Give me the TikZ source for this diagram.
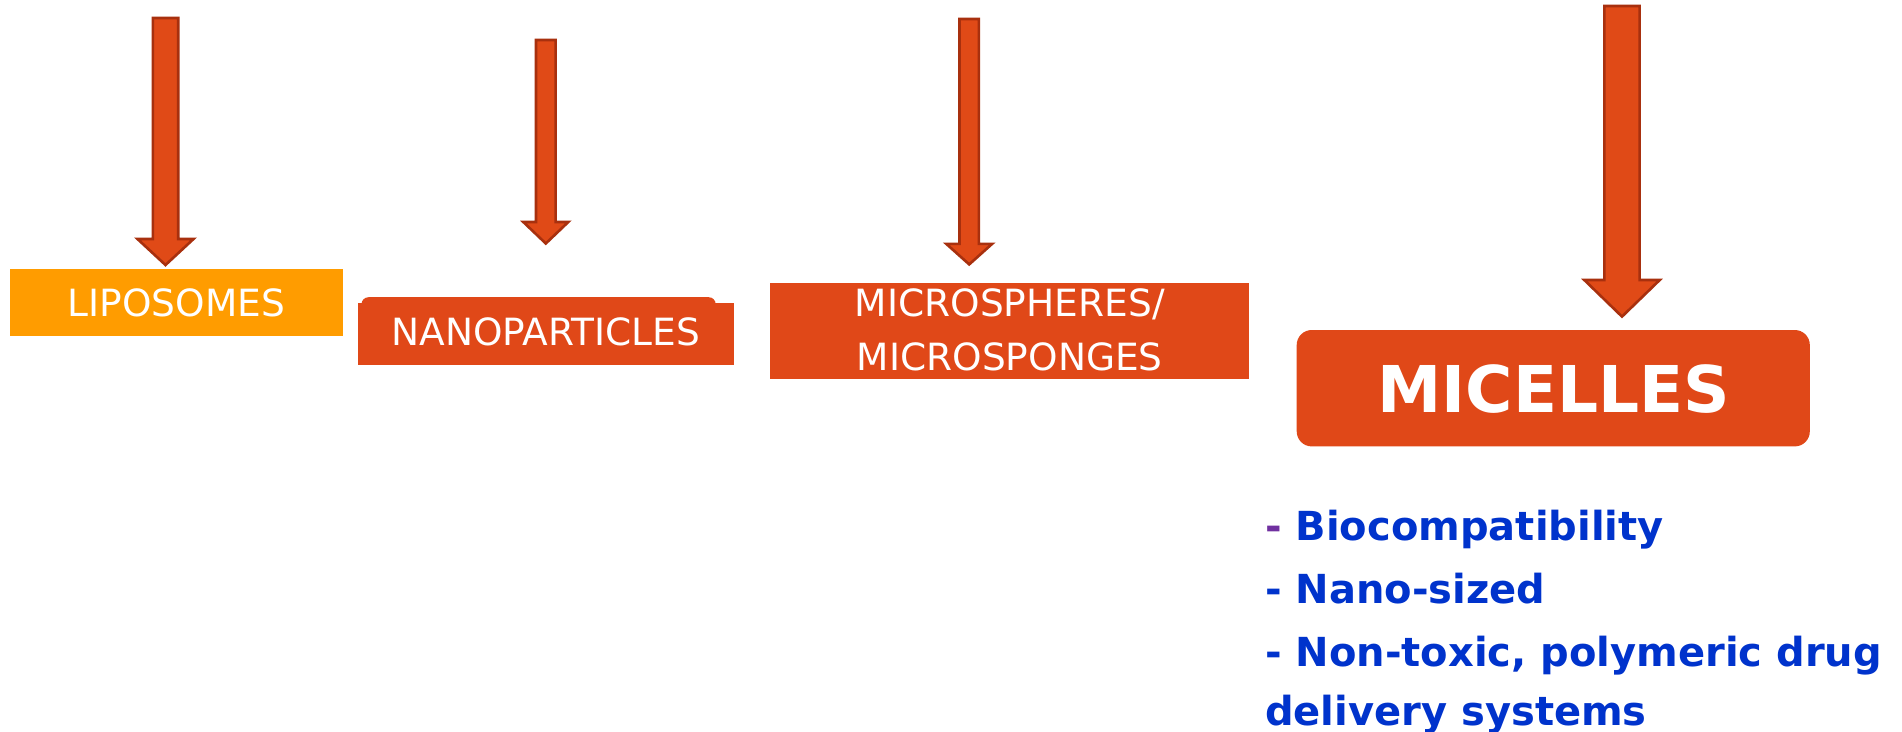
\documentclass[tikz,border=0pt]{standalone}
\usepackage{fontspec}
\setmainfont{DejaVu Sans}
\definecolor{arrfill}{HTML}{E04A17}
\definecolor{arrline}{HTML}{A8300E}
\definecolor{boxred}{HTML}{E04818}
\definecolor{boxorange}{HTML}{FF9C00}
\definecolor{txtblue}{HTML}{0033CC}
\definecolor{dashpurple}{HTML}{7030A0}
\newcommand\myArrow[6]{% cx, top, shaft half, head half, base, tip
  \draw[blockarrow] (#1-#3,#2) -- (#1+#3,#2) -- (#1+#3,#5) -- (#1+#4,#5) -- (#1,#6)
     -- (#1-#4,#5) -- (#1-#3,#5) -- cycle;}
\tikzset{
  blockarrow/.style={fill=arrfill, draw=arrline, line width=2.6pt, line join=miter},
  labelbox/.style={rectangle, inner sep=0pt, text=white, align=center,
     font=\fontsize{37.5}{54}\selectfont},
  bullet/.style={anchor=base west, inner sep=0pt, text=txtblue,
     font=\bfseries\fontsize{40}{50}\selectfont}
}
\begin{document}
\begin{tikzpicture}[x=1pt,y=-1pt]
\useasboundingbox (0,0) rectangle (1902,731);
\clip (0,0) rectangle (1902,731);
\fill[white] (0,0) rectangle (1902,731);
% arrows
\myArrow{165.5}{18}{12.7}{28}{239}{265}
\myArrow{545.8}{40}{9.8}{22.5}{222}{243.5}
\myArrow{969.2}{19}{9.7}{23}{243.8}{264.4}
\myArrow{1622}{6}{17.6}{37.7}{280}{316.6}
% LIPOSOMES
\fill[boxorange] (9.7,269.3) rectangle (343.3,336);
\node[labelbox] (lipo) at (176.5,302.6) {LIPOSOMES};
% NANOPARTICLES
\fill[boxred, rounded corners=7pt] (361.5,297.2) rectangle (715.7,315);
\fill[boxred] (357.8,303.3) rectangle (733.9,365.1);
\node[labelbox] (nano) at (545.8,332) {NANOPARTICLES};
% MICROSPHERES
\fill[boxred] (770.3,282.6) rectangle (1249.4,378.5);
\node[labelbox] (micro) at (1009.8,330) {MICROSPHERES/\\MICROSPONGES};
% MICELLES
\fill[boxred, rounded corners=15pt] (1296.7,330) rectangle (1809.8,446.4);
\node[labelbox, font=\bfseries\fontsize{64.5}{70}\selectfont] (mic) at (1553.9,389) {MICELLES};
% bullets
\node[bullet] (b1) at (1265,540) {\textcolor{dashpurple}{-} Biocompatibility};
\node[bullet] (b2) at (1265,603) {- Nano-sized};
\node[bullet] (b3) at (1265,666) {- Non-toxic, polymeric drug};
\node[bullet] (b4) at (1265,725) {delivery systems};
\end{tikzpicture}
\end{document}
